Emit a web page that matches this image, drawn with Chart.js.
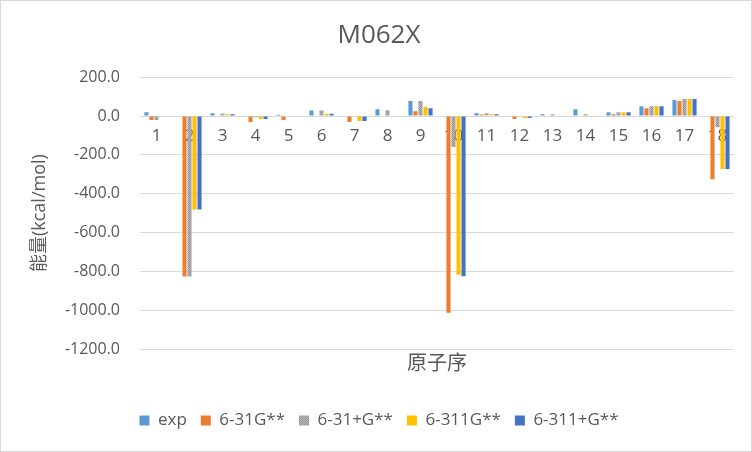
<!DOCTYPE html>
<html><head><meta charset="utf-8">
<script src="https://cdn.jsdelivr.net/npm/chart.js@4.4.1/dist/chart.umd.min.js"></script>
<style>
html,body{margin:0;padding:0;background:#fff;}
#wrap{position:relative;width:750px;height:450px;border:1px solid #d9d9d9;}
canvas{display:block;}
</style></head><body>
<div id="wrap"><canvas id="c" width="750" height="450"></canvas></div>
<script>
// ---- data ----
const categories = ['1','2','3','4','5','6','7','8','9','10','11','12','13','14','15','16','17','18'];
const seriesNames = ['exp','6-31G**','6-31+G**','6-311G**','6-311+G**'];
const expValues      = [19, 0, 14, 0, 6, 29, 0, 35, 77, 0, 14, 0, 9, 35, 19, 51, 82, 0];
const b631gValues    = [-21, -826, 0, -31, -21, 0, -31, 0, 25, -1013, 8, -15, 0, 0, 9, 40, 77, -326];
const b631pgValues   = [-20, -826, 13, -6, 0, 29, 0, 30, 77, -160, 14, 0, 9, 9, 19, 51, 88, -58];
const b6311gValues   = [0, -482, 9, -15, 0, 12, -26, 0, 46, -818, 9, -10, 0, 0, 19, 51, 88, -273];
const b6311pgValues  = [0, -482, 9, -15, 0, 12, -26, 0, 40, -825, 9, -10, 0, 0, 19, 51, 88, -273];
const yMin = -1200, yMax = 200, yStep = 200;
const chartTitle = 'M062X';
const yTitle = '能量(kcal/mol)';
const xTitle = '原子序';

// ---- styles ----
function grayPattern(){
  const p = document.createElement('canvas'); p.width = 2; p.height = 2;
  const g = p.getContext('2d');
  g.fillStyle = '#b4b4b4'; g.fillRect(0,0,2,2);
  g.fillStyle = '#979797'; g.fillRect(0,0,1,1); g.fillRect(1,1,1,1);
  return g.createPattern(p, 'repeat');
}
const ctx = document.getElementById('c').getContext('2d');
const colors = ['#5B9BD5', '#ED7D31', grayPattern(), '#FFC000', '#4472C4'];
const valueSets = [expValues, b631gValues, b631pgValues, b6311gValues, b6311pgValues];
const FAM = "'Open Sans','Noto Sans CJK SC',sans-serif";
const TXT = '#595959';
Chart.defaults.font.family = FAM;
Chart.defaults.color = TXT;

new Chart(ctx, {
  type: 'bar',
  data: {
    labels: categories,
    datasets: seriesNames.map((n, i) => ({
      label: n,
      data: valueSets[i],
      backgroundColor: colors[i],
      borderWidth: 0,
      categoryPercentage: 0.76,
      barPercentage: 0.82
    }))
  },
  options: {
    responsive: false,
    animation: false,
    devicePixelRatio: 1,
    layout: { padding: { left: 23, right: 17, top: 0, bottom: 12 } },
    plugins: {
      title: { display: true, text: chartTitle, color: TXT,
        font: { size: 26, weight: 'normal', family: FAM },
        padding: { top: 19, bottom: 26 } },
      legend: { position: 'bottom',
        labels: { boxWidth: 10, boxHeight: 10, padding: 14, color: TXT,
          font: { size: 17, family: FAM } } },
      tooltip: { enabled: false }
    },
    scales: {
      y: {
        min: yMin, max: yMax,
        ticks: { stepSize: yStep, color: TXT, padding: 20,
          font: { size: 16, family: FAM },
          callback: v => Number(v).toFixed(1) },
        grid: { color: '#d9d9d9', lineWidth: 1, drawTicks: false },
        border: { display: false },
        title: { display: true, text: yTitle, color: TXT,
          font: { size: 18, family: FAM }, padding: { top: 5, bottom: 0 } },
        afterFit: s => { s.width = 116; }
      },
      x: {
        position: { y: 0 },
        grid: { display: false, drawTicks: false },
        border: { display: false },
        ticks: { color: TXT, padding: 10, font: { size: 17, family: FAM }, maxRotation: 0, autoSkip: false }
      },
      x2: {
        type: 'category',
        position: 'bottom',
        grid: { display: false, drawTicks: false },
        border: { display: false },
        ticks: { display: false },
        title: { display: true, text: xTitle, color: TXT,
          font: { size: 20, family: FAM }, padding: { top: 3, bottom: 22 } }
      }
    }
  }
});
</script>
</body></html>
